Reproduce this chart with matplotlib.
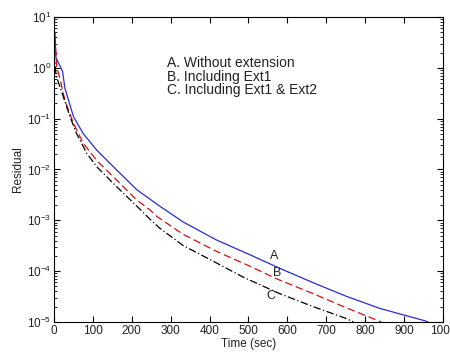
import matplotlib
matplotlib.use("Agg")
import matplotlib.pyplot as plt
import numpy as np

plt.rcParams['font.family'] = ['Liberation Sans', 'DejaVu Sans']

t_a = [0, 2.6, 5, 22, 28, 50, 75, 110, 161, 213, 247, 272, 332, 418, 504, 585, 632, 667, 752,
       838, 955, 962]
res_a = [5.5, 4.8, 1.6, 0.85, 0.4, 0.11, 0.051, 0.024, 0.0098, 0.0040, 0.0026, 0.0019, 9.3e-4,
         4.1e-4, 2.1e-4, 1.1e-4, 7.7e-5, 5.9e-5, 3.2e-5, 1.85e-5, 1.05e-5, 1.0e-5]

t_b = [0, 2.6, 7, 15, 28, 50, 75, 110, 161, 213, 247, 264, 332, 418, 504, 570, 667, 752, 842]
res_b = [4.0, 3.5, 1.05, 0.63, 0.23, 0.081, 0.033, 0.015, 0.0062, 0.0025, 0.0016, 0.0012,
         5.3e-4, 2.45e-4, 1.25e-4, 7.2e-5, 3.6e-5, 1.9e-5, 1.0e-5]

t_c = [0, 5, 24, 41, 58, 84, 110, 161, 213, 247, 272, 332, 418, 487, 581, 667, 752, 770]
res_c = [2.0, 0.72, 0.27, 0.11, 0.051, 0.021, 0.0113, 0.0046, 0.0019, 1.05e-3, 7.0e-4, 3.2e-4,
         1.45e-4, 7.6e-5, 3.6e-5, 2.0e-5, 1.17e-5, 1.0e-5]

legend_lines = ["A. Without extension", "B. Including Ext1", "C. Including Ext1 & Ext2"]
curve_labels = ["A", "B", "C"]

fig = plt.figure(figsize=(4.5, 3.54), dpi=100)
ax = fig.add_axes([0.12, 0.0904, 0.864, 0.8616])

ax.semilogy(t_a, res_a, color='#2b2bd0', lw=0.9, ls='-')
ax.semilogy(t_b, res_b, color='#d01010', lw=0.9, ls=(0, (6, 3)))
ax.semilogy(t_c, res_c, color='black', lw=0.9, ls=(0, (6, 2, 1, 2)))

ax.set_xlim(0, 1000)
ax.set_ylim(1e-5, 10)
ax.set_xticks(np.arange(0, 1001, 100))
ax.tick_params(axis='both', which='both', direction='in', top=True, right=True,
               labelsize=8.5, labelcolor='#222222', pad=2)
ax.tick_params(which='major', length=4)
ax.tick_params(which='minor', length=2)
ax.set_xlabel('Time (sec)', fontsize=8.5, labelpad=1, color='#222222')
ax.set_ylabel('Residual', fontsize=8.5, color='#222222', labelpad=2)

ys = [1.24, 0.66, 0.36]
for txt, y in zip(legend_lines, ys):
    ax.text(290, y, txt, fontsize=10, va='center', ha='left', color='#222222')

ax.text(555, 2.0e-4, curve_labels[0], fontsize=9, ha='left', va='center', color='#222222')
ax.text(563, 9.0e-5, curve_labels[1], fontsize=9, ha='left', va='center', color='#222222')
ax.text(547, 3.2e-5, curve_labels[2], fontsize=9, ha='left', va='center', color='#222222')

for s in ax.spines.values():
    s.set_linewidth(0.8)

fig.savefig('out.png', dpi=100)
